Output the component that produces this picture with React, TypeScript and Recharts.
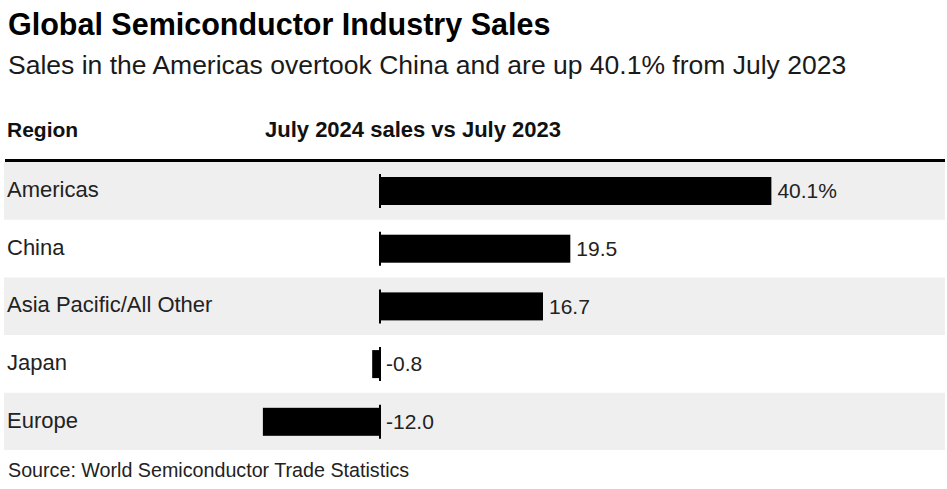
import { Bar, BarChart, LabelList, ReferenceArea, XAxis, YAxis } from "recharts";

const regions = ["Americas", "China", "Asia Pacific/All Other", "Japan", "Europe"];
const salesChange = [40.1, 19.5, 16.7, -0.8, -12.0];

const data = regions.map((region, i) => ({ region, change: salesChange[i] }));
const shadedRows = regions.filter((_, i) => i % 2 === 0);

const FONT = "'Liberation Sans', Arial, sans-serif";
const CHART_W = 947;
const PLOT_LEFT = 4;
const PLOT_RIGHT = 945;
const ZERO_X = 380;
const PX_PER_UNIT = 9.76;
const xDomain = [-(ZERO_X - PLOT_LEFT) / PX_PER_UNIT, (PLOT_RIGHT - ZERO_X) / PX_PER_UNIT];

const zeroOf = (x: number, width: number, value: number) =>
  value < 0 ? Math.max(x, x + width) : Math.min(x, x + width);

const BarWithZero = (props: any) => {
  const { x, y, width, height, value } = props;
  const v = Array.isArray(value) ? value[1] - value[0] : value;
  const left = Math.min(x, x + width);
  const zero = zeroOf(x, width, v);
  return (
    <g>
      <rect x={left} y={y} width={Math.abs(width)} height={height} fill="#000" />
      <line x1={zero} x2={zero} y1={y - 3} y2={y + height + 3} stroke="#000" strokeWidth={2} />
    </g>
  );
};

const ValueLabel = (props: any) => {
  const { x, y, width, height, value, index } = props;
  const end = value < 0 ? zeroOf(x, width, value) : Math.max(x, x + width);
  const text = index === 0 ? `${value.toFixed(1)}%` : value.toFixed(1);
  return (
    <text x={end + 6} y={y + height / 2} dy="0.34em" fontFamily={FONT} fontSize={21} fill="#222">
      {text}
    </text>
  );
};

// region names sit at the left edge of each row, vertically centred on the bar
const RegionLabel = (props: any) => {
  const { y, height, value } = props;
  return (
    <text x={7} y={y + height / 2} dy="0.27em" fontFamily={FONT} fontSize={22} fill="#222">
      {value}
    </text>
  );
};

export default function App() {
  return (
    <div
      style={{
        position: "absolute",
        left: 0,
        top: 0,
        width: CHART_W,
        height: 489,
        background: "#fff",
        fontFamily: FONT,
        overflow: "hidden"
      }}
    >
      <div style={{ position: "absolute", left: 8, top: 8.6, fontSize: 30.5, fontWeight: 700, lineHeight: 1, color: "#000", whiteSpace: "nowrap" }}>
        Global Semiconductor Industry Sales
      </div>
      <div style={{ position: "absolute", left: 8, top: 52, fontSize: 26.5, lineHeight: 1, color: "#1a1a1a", whiteSpace: "nowrap" }}>
        Sales in the Americas overtook China and are up 40.1% from July 2023
      </div>
      <div style={{ position: "absolute", left: 7, top: 119, fontSize: 21, fontWeight: 700, lineHeight: 1, color: "#111", whiteSpace: "nowrap" }}>
        Region
      </div>
      <div style={{ position: "absolute", left: 265, top: 118.5, fontSize: 22, fontWeight: 700, lineHeight: 1, color: "#111", whiteSpace: "nowrap" }}>
        July 2024 sales vs July 2023
      </div>
      <div style={{ position: "absolute", left: 5, top: 159, width: 940, height: 2.5, background: "#000" }} />
      <div style={{ position: "absolute", left: 0, top: 161.5 }}>
        <BarChart
          width={CHART_W}
          height={288.5}
          data={data}
          layout="vertical"
          margin={{ top: 0, right: CHART_W - PLOT_RIGHT, bottom: 0, left: PLOT_LEFT }}
        >
          <XAxis type="number" hide domain={xDomain} allowDataOverflow />
          <YAxis type="category" dataKey="region" hide />
          {shadedRows.map((r) => (
            <ReferenceArea key={r} y1={r} y2={r} fill="#efefef" fillOpacity={1} stroke="none" />
          ))}
          <Bar dataKey="change" barSize={28} shape={<BarWithZero />} isAnimationActive={false}>
            <LabelList dataKey="change" content={<ValueLabel />} />
            <LabelList dataKey="region" content={<RegionLabel />} />
          </Bar>
        </BarChart>
      </div>
      <div style={{ position: "absolute", left: 8, top: 460.5, fontSize: 19.7, lineHeight: 1, color: "#222", whiteSpace: "nowrap" }}>
        Source: World Semiconductor Trade Statistics
      </div>
    </div>
  );
}
